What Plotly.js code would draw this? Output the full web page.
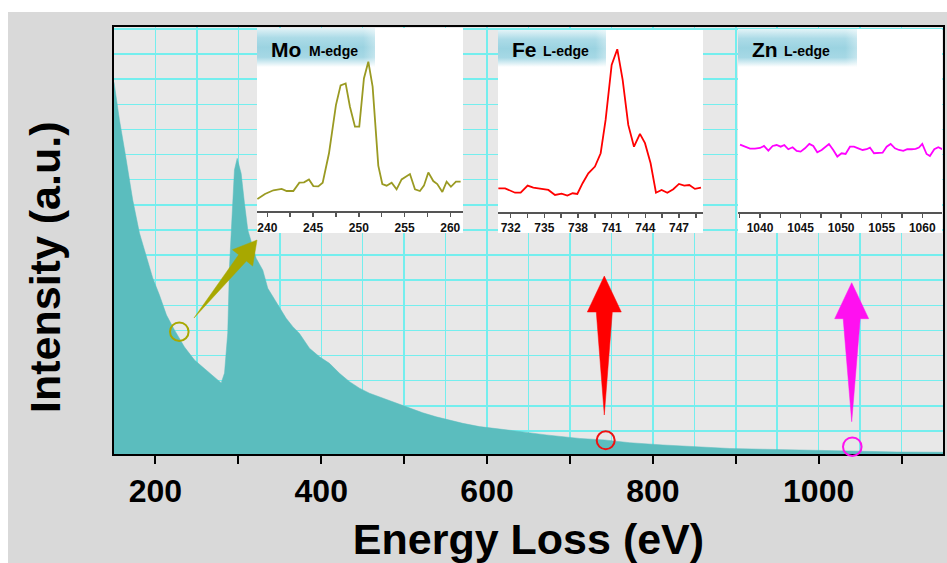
<!DOCTYPE html>
<html>
<head>
<meta charset="utf-8">
<script src="https://cdn.plot.ly/plotly-3.0.1.min.js"></script>
<style>
html,body{margin:0;padding:0;background:#ffffff;overflow:hidden;}
#chart{position:absolute;left:8px;top:12px;width:939px;height:551px;}
</style>
</head>
<body>
<div id="chart"></div>
<script>
// ---------------- DATA ----------------
// Main EELS spectrum (energy loss in eV, intensity in a.u.)
const specEnergy = [150.0, 156.6, 163.8, 168.6, 172.6, 180.7, 188.8, 196.7, 204.8, 213.3, 222.9, 235.0, 247.1, 261.2, 273.2, 279.3, 283.3, 287.2, 289.3, 291.3, 293.3, 295.3, 298.6, 303.4, 307.4, 311.4, 321.5, 329.5, 335.5, 341.5, 349.6, 357.7, 365.7, 373.7, 385.8, 397.9, 409.9, 422.0, 434.1, 446.1, 458.2, 474.3, 490.4, 506.5, 522.5, 538.7, 554.7, 570.8, 590.9, 615.1, 631.1, 671.4, 711.6, 741.8, 771.9, 812.1, 852.4, 892.6, 932.8, 973.1, 1013.3, 1053.5, 1093.8, 1146.0, 1150.0];
const specIntensity = [14.8, 13.30, 11.90, 10.91, 10.11, 8.80, 7.92, 7.01, 6.33, 5.53, 4.94, 4.26, 3.74, 3.34, 2.99, 2.83, 3.22, 4.82, 7.46, 8.80, 10.11, 11.31, 11.77, 11.17, 9.98, 8.92, 7.79, 7.32, 6.60, 6.26, 5.80, 5.40, 5.07, 4.80, 4.21, 3.87, 3.61, 3.21, 2.88, 2.62, 2.42, 2.22, 2.02, 1.82, 1.64, 1.48, 1.35, 1.22, 1.09, 0.98, 0.93, 0.76, 0.62, 0.56, 0.45, 0.36, 0.29, 0.22, 0.19, 0.16, 0.12, 0.09, 0.08, 0.07, 0.07];

// Mo M-edge inset
const moEnergy = [238.91, 239.74, 240.66, 241.57, 242.11, 242.84, 243.50, 244.01, 244.55, 245.03, 245.57, 246.05, 246.74, 247.50, 248.01, 248.56, 249.03, 249.58, 250.05, 250.56, 251.04, 251.51, 252.13, 252.57, 253.04, 253.59, 254.13, 254.68, 255.59, 256.14, 256.68, 257.12, 257.60, 258.14, 258.58, 259.13, 259.60, 260.07, 260.62, 261.13];
const moIntensity = [7.2, 10.0, 12.0, 12.7, 11.6, 11.6, 16.1, 16.3, 17.9, 14.3, 14.1, 16.1, 32.1, 58.3, 69.0, 70.1, 57.4, 46.6, 46.6, 72.8, 81.9, 68.3, 25.4, 15.4, 14.5, 16.1, 12.5, 17.9, 20.8, 12.5, 11.6, 14.5, 21.7, 17.0, 15.4, 11.1, 16.7, 13.9, 16.7, 16.7];

// Fe L-edge inset
const feEnergy = [730.90, 731.50, 732.39, 732.89, 733.51, 734.02, 734.61, 735.36, 735.95, 736.54, 737.05, 737.52, 737.94, 738.41, 738.92, 739.51, 740.02, 740.46, 741.00, 741.50, 741.98, 742.48, 742.99, 743.52, 743.97, 744.47, 744.95, 745.45, 745.96, 746.49, 747.00, 747.47, 747.92, 748.42, 748.96];
const feIntensity = [13.3, 13.3, 10.9, 10.9, 14.8, 13.7, 13.1, 12.4, 9.7, 10.4, 9.3, 10.6, 10.2, 16.1, 21.5, 25.2, 32.5, 50.7, 80.8, 89.4, 72.6, 48.0, 36.1, 43.1, 38.0, 27.0, 10.9, 12.4, 10.9, 12.8, 15.7, 14.8, 15.1, 13.0, 13.7];

// Zn L-edge inset
const znEnergy = [1037.54, 1038.15, 1038.77, 1039.38, 1040.00, 1040.49, 1041.03, 1041.56, 1042.05, 1042.55, 1043.00, 1043.49, 1044.02, 1044.52, 1045.01, 1045.54, 1046.08, 1046.57, 1047.06, 1047.60, 1048.09, 1048.50, 1049.03, 1049.53, 1050.06, 1050.55, 1051.09, 1051.58, 1052.11, 1052.65, 1053.14, 1053.55, 1054.05, 1054.58, 1055.11, 1055.61, 1056.10, 1056.63, 1057.13, 1057.66, 1058.15, 1058.69, 1059.18, 1059.59, 1060.00, 1060.53, 1060.94, 1061.48, 1061.97, 1062.46];
const znIntensity = [37.2, 36.1, 35.0, 35.0, 35.4, 36.5, 33.9, 36.5, 37.0, 36.1, 37.0, 34.7, 35.8, 33.8, 33.4, 35.2, 37.6, 36.5, 33.0, 34.3, 36.1, 37.6, 34.3, 30.7, 32.5, 32.1, 36.1, 36.1, 35.2, 34.3, 34.7, 35.6, 32.5, 32.5, 32.8, 36.1, 37.6, 35.2, 34.3, 33.8, 34.7, 34.7, 34.9, 35.6, 37.6, 32.1, 31.0, 34.7, 35.8, 34.7];

// Labels
const xTitle = 'Energy Loss (eV)';
const yTitle = 'Intensity (a.u.)';
const insetElements = ['Mo', 'Fe', 'Zn'];
const insetEdges = ['M-edge', 'L-edge', 'L-edge'];

// ---------------- STYLE / LAYOUT ----------------
const FONT = 'Arial, "Liberation Sans", sans-serif';
const GRID = '#74eeee';
const FILL = '#5bbdbe';
// main plot area in page pixels
const BOX = {l: 114, r: 943, t: 27, b: 454};
const px = x => (x - BOX.l) / (BOX.r - BOX.l);
const py = y => (BOX.b - y) / (BOX.b - BOX.t);

const insetSpecs = [
  {x: moEnergy, y: moIntensity, color: '#9a9a22', xr: [238.87, 261.39], yr: [-11.23, 100.2],
   box: [257, 463, 28, 233], axisY: 212.3, tick0: 240, dtick: 2.5, head: [257, 375, 28, 67], t1: 269, t2: 307},
  {x: feEnergy, y: feIntensity, color: '#ff0000', xr: [730.87, 749.14], yr: [-11.13, 99.9],
   box: [498, 703, 30, 233], axisY: 212.7, tick0: 732, dtick: 1.5, head: [498, 606, 30, 67], t1: 509.5, t2: 540.5},
  {x: znEnergy, y: znIntensity, color: '#ff00ff', xr: [1037.29, 1062.43], yr: [-11.13, 100.5],
   box: [738, 942, 29, 233], axisY: 212.7, tick0: 1040, dtick: 2.5, head: [738, 857, 29, 67], t1: 749.5, t2: 782}
];

const traces = [{
  type: 'scatter', mode: 'lines', x: specEnergy, y: specIntensity,
  fill: 'tozeroy', fillcolor: FILL, line: {color: FILL, width: 0.5},
  xaxis: 'x', yaxis: 'y', hoverinfo: 'skip', showlegend: false
}];

const layout = {
  width: 939, height: 551,
  margin: {l: BOX.l - 8, r: 947 - BOX.r, t: BOX.t - 12, b: 563 - BOX.b},
  paper_bgcolor: '#d9d9d9',
  plot_bgcolor: '#e8e8e8',
  showlegend: false,
  xaxis: {
    domain: [0, 1], range: [150, 1150], tick0: 0, dtick: 100, ticklabelstep: 2,
    ticks: 'outside', ticklen: 8, tickwidth: 2, tickcolor: '#000',
    showline: true, mirror: true, linecolor: '#000', linewidth: 2,
    showgrid: true, gridcolor: GRID, gridwidth: 1.5,
    minor: {dtick: 50, showgrid: true, gridcolor: GRID, gridwidth: 1.5, ticks: ''},
    zeroline: false,
    tickfont: {family: FONT, size: 32, weight: 700, color: '#000'},
    title: {text: xTitle, font: {family: FONT, size: 43, weight: 700, color: '#000'}, standoff: 17}
  },
  yaxis: {
    domain: [0, 1], range: [0, 17], tick0: -0.08, dtick: 1,
    showticklabels: false, ticks: '',
    showline: true, mirror: true, linecolor: '#000', linewidth: 2,
    showgrid: true, gridcolor: GRID, gridwidth: 1.5, zeroline: false
  },
  shapes: [], images: [], annotations: []
};

function headSvg() {
  const svg = "<svg xmlns='http://www.w3.org/2000/svg' width='120' height='40' viewBox='0 0 120 40' preserveAspectRatio='none'>" +
    "<defs><linearGradient id='g' x1='0' y1='0' x2='0' y2='1'>" +
    "<stop offset='0' stop-color='#e2f3f7'/><stop offset='0.25' stop-color='#acdbe7'/>" +
    "<stop offset='0.5' stop-color='#9bd3e1'/><stop offset='0.75' stop-color='#a6d8e5'/>" +
    "<stop offset='1' stop-color='#ffffff'/></linearGradient>" +
    "<linearGradient id='h' x1='0' y1='0' x2='1' y2='0'><stop offset='0.9' stop-color='#fff' stop-opacity='0'/><stop offset='1' stop-color='#fff' stop-opacity='0.35'/></linearGradient></defs>" +
    "<rect width='120' height='40' fill='url(#g)'/><rect width='120' height='40' fill='url(#h)'/></svg>";
  return 'data:image/svg+xml;charset=utf-8,' + encodeURIComponent(svg);
}

insetSpecs.forEach((s, i) => {
  const n = i + 2;
  const [bl, br, bt, bb] = s.box;
  const toX = p => s.xr[0] + (p - bl) / (br - bl) * (s.xr[1] - s.xr[0]);
  const toY = p => s.yr[0] + (bb - p) / (bb - bt) * (s.yr[1] - s.yr[0]);
  traces.push({
    type: 'scatter', mode: 'lines', x: s.x, y: s.y,
    line: {color: s.color, width: 1.8},
    xaxis: 'x' + n, yaxis: 'y' + n, hoverinfo: 'skip', showlegend: false
  });
  layout['xaxis' + n] = {
    domain: [px(bl), px(br)], range: s.xr, anchor: 'free', position: py(s.axisY),
    showgrid: false, zeroline: false, showline: true, linecolor: '#555', linewidth: 2,
    ticks: 'outside', ticklen: 4, tickwidth: 1.5, tickcolor: '#555',
    tick0: s.tick0, dtick: s.dtick, ticklabelstep: 2,
    tickfont: {family: FONT, size: 12, weight: 700, color: '#111'}
  };
  layout['yaxis' + n] = {
    domain: [py(bb), py(bt)], range: s.yr, visible: false, anchor: 'x' + n
  };
  layout.shapes.push({
    type: 'rect', xref: 'x' + n, yref: 'y' + n, layer: 'below',
    x0: s.xr[0], x1: s.xr[1], y0: s.yr[0], y1: s.yr[1],
    fillcolor: '#ffffff', line: {width: 0}
  });
  const [hl, hr, ht, hb] = s.head;
  layout.images.push({
    source: headSvg(), xref: 'x' + n, yref: 'y' + n, layer: 'below',
    x: toX(hl), y: toY(ht), sizex: toX(hr) - toX(hl), sizey: toY(ht) - toY(hb),
    xanchor: 'left', yanchor: 'top', sizing: 'stretch'
  });
  layout.annotations.push({
    xref: 'paper', yref: 'paper', x: px(s.t1), y: py(49.5), xanchor: 'left', yanchor: 'middle',
    text: insetElements[i], showarrow: false,
    font: {family: FONT, size: 21, weight: 700, color: '#000'}
  });
  layout.annotations.push({
    xref: 'paper', yref: 'paper', x: px(s.t2), y: py(51.5), xanchor: 'left', yanchor: 'middle',
    text: insetEdges[i], showarrow: false,
    font: {family: FONT, size: 14, weight: 700, color: '#000'}
  });
});

// y-axis title (placed as in the reference, slightly below centre)
layout.annotations.push({
  xref: 'paper', yref: 'paper', x: px(45), y: py(268), xanchor: 'center', yanchor: 'middle',
  text: yTitle, textangle: -90, showarrow: false,
  font: {family: FONT, size: 43, weight: 700, color: '#000'}
});

// arrows and circles (annotation graphics, page-pixel geometry)
function pathOf(pts) {
  return 'M ' + pts.map(p => px(p[0]).toFixed(5) + ',' + py(p[1]).toFixed(5)).join(' L ') + ' Z';
}
function circle(cx, cy, r, color) {
  return {type: 'circle', xref: 'paper', yref: 'paper', layer: 'above',
    x0: px(cx - r), x1: px(cx + r), y0: py(cy + r), y1: py(cy - r),
    line: {color: color, width: 2}, fillcolor: 'rgba(0,0,0,0)'};
}
function arrowPts(tail, tip, headLen, headHalf, shaftHalf) {
  const dx = tip[0] - tail[0], dy = tip[1] - tail[1];
  const L = Math.hypot(dx, dy), ux = dx / L, uy = dy / L, nx = -uy, ny = ux;
  const bx = tip[0] - ux * headLen, by = tip[1] - uy * headLen;
  return [tail,
    [bx + nx * shaftHalf, by + ny * shaftHalf], [bx + nx * headHalf, by + ny * headHalf], tip,
    [bx - nx * headHalf, by - ny * headHalf], [bx - nx * shaftHalf, by - ny * shaftHalf]];
}
const arrowDefs = [
  {tail: [194, 318], tip: [257, 240], hl: 23, hh: 13, sh: 5, color: '#a8a800'},
  {tail: [604.3, 415], tip: [604.3, 276], hl: 36, hh: 17, sh: 8, color: '#ff0000'},
  {tail: [851.7, 421.7], tip: [851.7, 282.7], hl: 36, hh: 17, sh: 8.5, color: '#ff10f0'}
];
arrowDefs.forEach(a => {
  layout.shapes.push({type: 'path', xref: 'paper', yref: 'paper', layer: 'above',
    path: pathOf(arrowPts(a.tail, a.tip, a.hl, a.hh, a.sh)),
    fillcolor: a.color, line: {color: a.color, width: 0.5}});
});
layout.shapes.push(circle(179.3, 331.7, 9.3, '#a8a800'));
layout.shapes.push(circle(605.7, 440.3, 9, '#ee1111'));
layout.shapes.push(circle(852.3, 446.7, 9.3, '#ff10f0'));

Plotly.newPlot('chart', traces, layout, {displayModeBar: false, staticPlot: true});
</script>
</body>
</html>
